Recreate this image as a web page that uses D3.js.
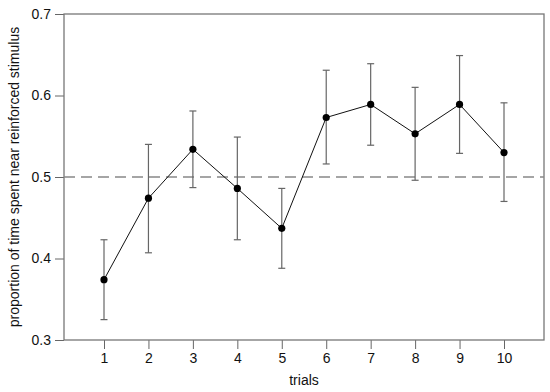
<!DOCTYPE html>
<html>
<head>
<meta charset="utf-8">
<script src="https://cdn.jsdelivr.net/npm/d3@7"></script>
<style>
  body { margin: 0; background: #fff; }
  svg { font-family: "Liberation Sans", Arial, sans-serif; }
</style>
</head>
<body>
<svg id="chart" width="550" height="392"></svg>
<script>
const trials = [1, 2, 3, 4, 5, 6, 7, 8, 9, 10];
const means = [0.374, 0.474, 0.534, 0.486, 0.437, 0.573, 0.589, 0.553, 0.589, 0.530];
const upper = [0.423, 0.540, 0.581, 0.549, 0.486, 0.631, 0.639, 0.610, 0.649, 0.591];
const lower = [0.325, 0.407, 0.487, 0.423, 0.388, 0.516, 0.539, 0.496, 0.529, 0.470];
const yTicks = [0.3, 0.4, 0.5, 0.6, 0.7];
const chance = 0.5;

const margin = {left: 64, right: 6, top: 14, bottom: 52};
const width = 550 - margin.left - margin.right;
const height = 392 - margin.top - margin.bottom;

const svg = d3.select("#chart")
  .append("g")
  .attr("transform", `translate(${margin.left},${margin.top})`);

const x = d3.scaleLinear().domain([0.1, 10.9]).range([0, width]);
const y = d3.scaleLinear().domain([0.3, 0.7]).range([height, 0]);

// axes
const xAxis = svg.append("g")
  .attr("transform", `translate(0,${height})`)
  .call(d3.axisBottom(x).tickValues(trials).tickSize(9).tickPadding(4).tickFormat(d3.format("d")));
const yAxis = svg.append("g")
  .call(d3.axisLeft(y).tickValues(yTicks).tickSize(9).tickPadding(4).tickFormat(d3.format(".1f")));

[xAxis, yAxis].forEach(a => {
  a.select(".domain").remove();
  a.selectAll("line").attr("stroke", "#666");
  a.selectAll("text").attr("font-size", 14).attr("fill", "#111")
    .attr("font-family", "Liberation Sans, Arial, sans-serif");
});

// box
svg.append("rect")
  .attr("width", width).attr("height", height)
  .attr("fill", "none").attr("stroke", "#777").attr("stroke-width", 1.3);

// reference line
svg.append("line")
  .attr("x1", 0).attr("x2", width)
  .attr("y1", y(chance)).attr("y2", y(chance))
  .attr("stroke", "#888").attr("stroke-width", 1.5)
  .attr("stroke-dasharray", "11,6");

// error bars
const eb = svg.append("g").attr("stroke", "#666").attr("stroke-width", 1.2);
trials.forEach((t, i) => {
  eb.append("line").attr("x1", x(t)).attr("x2", x(t)).attr("y1", y(lower[i])).attr("y2", y(upper[i]));
  eb.append("line").attr("x1", x(t) - 3.5).attr("x2", x(t) + 3.5).attr("y1", y(lower[i])).attr("y2", y(lower[i]));
  eb.append("line").attr("x1", x(t) - 3.5).attr("x2", x(t) + 3.5).attr("y1", y(upper[i])).attr("y2", y(upper[i]));
});

// line + points
svg.append("path")
  .datum(trials)
  .attr("fill", "none").attr("stroke", "#111").attr("stroke-width", 1)
  .attr("d", d3.line().x(t => x(t)).y((t, i) => y(means[i])));

svg.selectAll("circle.pt")
  .data(trials)
  .enter().append("circle")
  .attr("class", "pt")
  .attr("cx", t => x(t)).attr("cy", (t, i) => y(means[i]))
  .attr("r", 3.6).attr("fill", "#000");

// labels
svg.append("text")
  .attr("x", width / 2).attr("y", height + 45)
  .attr("text-anchor", "middle").attr("font-size", 14).attr("fill", "#111")
  .text("trials");

svg.append("text")
  .attr("transform", `translate(${-45},${height / 2}) rotate(-90)`)
  .attr("text-anchor", "middle").attr("font-size", 14).attr("fill", "#111")
  .text("proportion of time spent near reinforced stimulus");
</script>
</body>
</html>
